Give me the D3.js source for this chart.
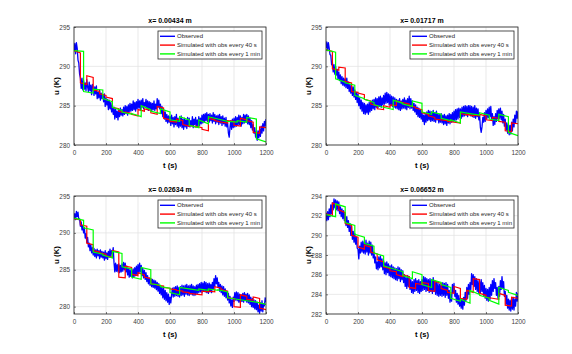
<!DOCTYPE html>
<html><head><meta charset="utf-8">
<script src="https://cdn.jsdelivr.net/npm/d3@7"></script>
<style>body{margin:0;background:#fff}svg{display:block}</style>
</head><body><svg id="c" width="572" height="354"></svg>
<script>
// ---------- DATA ----------
const titles = ["x= 0.00434 m", "x= 0.01717 m", "x= 0.02634 m", "x= 0.06652 m"];
const legendLabels = ["Observed", "Simulated with obs every 40 s", "Simulated with obs every 1 min"];
const xTicks = [0, 200, 400, 600, 800, 1000, 1200];
const yDomains = [[280, 295], [280, 295], [279, 295], [282, 294]];
const yTicks = [[280, 285, 290, 295], [280, 285, 290, 295], [280, 285, 290, 295], [282, 284, 286, 288, 290, 292, 294]];
const obsStep = 5;     // seconds between observed samples
const redPeriod = 40;  // assimilation period (s)
const greenPeriod = 60;

const obs1 = [
292.0,292.9,291.6,293.0,292.3,290.8,290.4,289.0,288.5,287.2,288.5,287.0,
288.2,287.1,287.9,286.9,288.3,287.4,286.8,288.0,286.9,287.6,286.4,287.7,
287.1,286.3,287.4,286.5,287.5,285.9,286.7,286.0,287.0,285.7,286.6,285.9,
286.4,285.5,286.5,284.9,286.0,285.1,285.8,284.5,285.7,284.6,285.4,284.2,
285.1,283.9,284.8,283.3,284.6,283.5,284.3,283.2,284.5,283.6,284.7,283.8,
284.5,283.7,284.8,283.9,285.0,284.0,284.9,283.8,285.1,284.2,285.3,284.3,
285.2,284.4,285.6,284.5,285.4,284.3,285.5,284.6,285.8,284.7,285.6,284.5,
285.7,284.8,285.9,284.6,285.4,284.9,285.8,284.7,285.6,284.4,285.5,284.6,
285.4,284.3,285.3,284.5,285.6,284.4,285.2,284.6,285.9,284.8,285.7,284.6,
285.2,284.0,284.9,283.6,284.5,283.3,284.2,283.0,283.9,282.8,283.7,282.9,
283.6,282.5,283.8,282.7,283.5,282.3,283.6,282.6,283.9,282.4,283.4,282.2,
283.5,282.4,283.7,282.2,283.3,282.0,283.4,282.3,283.2,282.1,283.5,282.4,
283.4,282.3,283.1,282.5,283.6,282.2,283.3,282.6,283.5,282.3,283.2,282.4,
283.6,282.5,283.4,282.7,283.8,282.8,283.9,282.9,284.0,283.1,284.1,283.0,
283.9,282.9,284.0,283.1,283.8,282.8,284.1,283.0,283.9,282.7,283.7,282.9,
283.8,282.6,283.9,282.8,283.6,282.5,283.7,282.7,283.4,282.4,283.5,282.3,
282.8,281.5,281.0,282.2,283.1,282.0,283.3,282.2,283.4,282.3,283.6,282.4,
283.5,282.5,283.8,282.6,283.7,282.4,283.5,282.7,283.9,282.8,283.8,282.9,
283.9,282.7,283.7,282.6,283.4,282.2,283.1,281.9,282.6,281.5,282.2,281.0,
281.7,280.6,281.8,280.9,282.0,281.1,282.4,281.5,282.7,281.8,283.0,282.4,
283.3];
const obs2 = [
292.3,293.1,292.0,293.0,292.3,291.5,291.4,290.2,290.5,289.3,290.2,289.0,
290.0,288.9,289.6,288.4,289.3,288.2,288.9,287.8,288.7,287.6,288.5,287.5,
288.4,287.3,288.5,287.2,288.0,286.8,287.7,286.6,287.5,286.3,287.4,286.1,
287.0,285.8,286.7,285.4,286.5,285.0,286.0,284.6,285.7,284.3,285.4,284.0,
285.3,283.9,285.1,284.1,285.2,283.9,285.4,284.2,285.5,284.4,285.7,284.6,
285.8,284.5,286.0,284.8,285.9,284.7,286.1,284.9,286.2,284.8,286.0,285.1,
286.3,285.2,286.6,285.3,286.7,285.4,286.5,285.1,286.4,285.0,286.2,284.9,
286.1,284.8,286.0,284.7,285.8,284.6,285.7,284.5,285.9,284.4,285.6,284.6,
285.8,284.7,286.0,284.6,285.7,284.5,285.9,284.8,286.2,284.6,285.9,284.7,
285.6,284.4,285.3,284.2,285.1,283.9,284.8,283.6,284.7,283.5,284.5,283.3,
284.2,283.0,283.8,282.6,283.9,282.9,284.2,283.1,284.4,283.2,284.3,283.0,
284.2,283.1,284.4,283.0,284.1,282.9,284.3,283.2,284.0,282.8,283.9,282.9,
284.0,282.8,283.8,282.6,283.9,282.7,283.7,282.5,283.8,282.8,284.0,282.7,
283.9,282.9,284.1,283.0,284.3,283.1,284.5,283.2,284.6,283.3,284.7,283.5,
284.6,283.4,284.8,283.6,284.9,283.7,285.0,283.8,284.9,283.6,285.0,283.9,
285.0,283.7,284.9,283.6,284.8,283.5,285.0,283.4,284.7,283.6,284.6,283.2,
283.8,282.2,281.6,282.3,283.5,282.9,284.1,283.0,284.4,283.3,284.6,283.5,
284.8,283.6,284.9,283.2,284.0,282.5,283.6,282.6,284.0,283.0,284.4,283.3,
284.6,283.4,284.7,283.2,284.3,282.8,283.9,282.4,283.3,281.9,282.8,281.5,
282.6,281.3,282.5,281.4,282.9,281.8,283.3,282.3,283.8,282.8,284.3,283.4,
284.3];
const obs3 = [
292.0,292.6,291.8,292.9,292.2,292.8,291.8,291.9,290.9,291.5,290.4,291.0,
290.0,290.7,289.3,289.9,288.7,289.4,288.1,288.6,287.6,288.4,287.3,288.0,
287.0,287.9,286.8,287.7,286.6,287.8,286.9,287.6,286.5,287.7,286.7,287.5,
286.6,287.4,286.3,287.6,286.5,287.3,286.4,287.5,286.7,287.8,286.8,287.6,
287.2,288.0,286.0,284.7,285.9,284.8,285.7,284.7,285.8,284.6,285.6,284.7,
285.8,284.8,286.0,285.0,285.9,284.7,285.5,284.3,285.2,284.0,285.0,284.1,
285.0,283.9,285.1,284.0,285.3,284.2,285.5,284.3,285.7,284.5,285.9,284.7,
285.6,284.2,285.2,283.9,284.9,283.7,284.6,283.4,284.2,283.1,283.9,282.9,
283.8,282.7,283.7,282.6,283.6,282.5,283.5,282.3,283.3,282.1,283.1,281.8,
282.8,281.6,282.7,281.2,282.5,281.0,282.2,280.8,281.9,280.6,281.7,280.3,
281.3,280.5,281.6,282.5,281.3,282.6,281.4,282.7,281.5,282.8,281.4,282.6,
281.3,282.7,281.5,282.9,281.6,282.8,281.4,282.9,281.7,283.0,281.6,282.8,
281.5,282.9,281.7,283.0,281.6,282.8,281.5,282.7,281.6,282.9,281.8,283.0,
281.9,283.1,282.0,283.3,281.9,283.2,282.1,283.4,282.0,283.3,281.9,283.1,
281.8,283.2,282.0,283.0,281.9,283.3,282.3,283.8,282.7,284.2,283.1,283.9,
282.6,283.3,282.1,283.0,281.9,282.8,281.6,282.7,281.4,282.4,281.2,282.1,
280.9,281.8,280.5,281.4,280.1,280.9,279.9,281.3,280.7,281.9,280.9,282.0,
280.8,281.9,280.6,281.7,280.5,281.6,280.7,281.8,280.6,281.9,280.8,281.7,
280.6,281.8,280.5,281.6,280.3,281.3,280.0,281.1,279.9,280.9,279.7,280.8,
279.6,280.6,279.3,280.2,279.1,280.5,279.4,280.8,279.3,280.4,280.1,281.2,
280.6];
const obs4 = [
292.3,291.5,292.4,291.6,292.7,291.9,293.1,292.2,293.3,292.6,293.7,292.8,
293.6,292.6,293.5,292.5,293.4,292.2,292.9,291.9,292.7,291.7,292.5,291.5,
292.2,291.0,291.9,290.8,291.5,290.4,291.2,290.0,290.9,289.6,290.4,289.3,
290.2,289.1,289.8,288.7,288.6,287.6,288.9,288.2,289.3,288.3,289.4,288.2,
289.3,288.1,289.5,288.3,289.2,288.0,289.4,288.2,289.3,288.0,289.0,287.7,
288.3,287.2,287.8,286.6,287.3,286.5,287.8,286.7,287.9,286.8,287.6,286.5,
287.4,286.1,287.2,286.0,287.3,286.2,287.1,285.9,286.9,285.8,287.0,285.7,
286.8,285.6,286.7,285.5,286.6,285.4,286.8,285.6,286.7,285.3,286.5,285.5,
286.4,285.2,286.0,284.8,285.7,284.6,285.9,284.8,285.8,284.5,285.5,284.2,
285.3,284.1,285.5,284.3,285.6,284.4,285.4,284.2,285.5,284.1,285.3,284.3,
285.5,284.4,285.8,284.5,285.7,284.3,285.6,284.4,285.5,284.2,285.6,284.3,
285.5,284.1,285.7,284.3,285.4,284.0,285.3,283.9,285.1,283.8,285.0,283.9,
285.0,283.8,285.2,283.9,285.1,283.7,285.2,283.9,285.0,283.6,284.4,283.2,
284.0,283.3,285.0,284.2,285.1,283.8,284.4,283.2,284.1,283.0,283.9,282.8,
283.6,282.6,283.5,282.5,283.7,282.9,284.2,283.4,284.7,283.6,285.0,284.0,
285.2,284.5,286.1,285.0,286.0,284.8,285.8,284.5,285.6,284.3,285.4,284.1,
285.3,284.2,285.5,284.3,285.2,283.9,284.9,283.6,284.6,283.4,284.5,283.3,
284.7,283.5,285.0,283.9,285.4,284.3,285.6,284.6,285.2,283.9,284.7,283.6,
284.8,283.8,285.4,284.5,285.8,284.6,285.3,283.8,284.3,283.0,283.9,282.6,
283.5,282.4,283.4,282.3,283.6,282.5,283.7,282.4,283.5,282.8,284.2,283.3,
284.1];

// Simulated (every 40 s): value at start and end of each 40 s window
const red1Start = [292.0,287.9,288.8,287.0,286.5,286.1,284.8,284.3,284.2,283.9,284.5,284.6,284.1,284.9,283.4,283.0,283.3,282.6,282.5,282.4,282.0,283.4,283.1,282.9,283.1,282.5,283.4,283.1,281.6,282.3];
const red1End   = [291.7,287.7,288.6,286.8,286.3,285.9,284.6,284.1,284.0,283.7,284.3,284.4,283.9,284.7,283.2,282.9,283.1,282.4,282.3,282.2,281.8,283.2,282.9,282.8,283.0,282.4,283.2,282.9,281.5,282.2];
const red2Start = [292.1,289.7,289.9,288.1,286.8,286.6,285.8,285.2,284.6,285.0,285.1,285.6,285.4,285.0,284.7,284.1,283.7,283.3,283.2,283.0,282.9,284.0,283.9,283.8,283.9,283.2,283.5,283.0,281.8,282.8];
const red2End   = [291.9,289.5,289.8,287.9,286.7,286.4,285.6,285.0,284.5,284.8,285.0,285.4,285.2,284.8,284.5,283.9,283.5,283.2,283.1,282.9,282.8,283.8,283.7,283.7,283.7,283.1,283.4,282.9,281.7,282.7];
const red3Start = [291.9,291.1,288.6,287.6,287.3,286.9,287.6,284.0,285.5,284.4,284.6,284.0,283.1,282.9,282.6,282.4,282.2,282.0,281.8,281.7,282.1,282.1,282.7,282.3,281.2,280.0,281.6,281.0,281.3,279.8];
const red3End   = [291.8,290.9,288.4,287.4,287.1,286.7,287.4,283.9,285.3,284.2,284.3,283.8,283.0,282.8,282.5,282.3,282.1,281.9,281.7,281.6,282.0,282.0,282.5,282.1,281.1,279.9,281.4,280.9,281.1,279.6];
const red4Start = [292.2,293.3,292.6,291.2,290.0,288.8,289.0,288.3,287.5,286.8,286.4,286.0,286.0,284.7,285.1,285.2,284.4,285.3,284.6,284.2,284.8,283.6,284.4,285.6,284.1,283.7,283.6,284.1,282.9,283.7];
const red4End   = [292.0,293.0,292.3,291.0,289.8,288.6,288.8,288.1,287.3,286.6,286.3,285.8,285.8,284.6,285.0,285.1,284.3,285.1,284.4,284.1,284.6,283.5,284.2,285.5,283.9,283.6,283.5,283.9,282.8,283.6];

// Simulated (every 1 min): value at start and end of each 60 s window
const green1Start = [292.0,286.8,287.1,285.9,284.8,284.2,284.0,285.0,284.3,284.6,283.2,283.6,282.5,283.2,283.6,283.3,283.0,283.1,283.5,280.8];
const green1End   = [291.9,286.6,287.0,285.5,284.4,283.9,283.6,284.5,284.0,284.2,283.0,283.2,282.2,282.7,283.3,283.0,282.9,282.9,283.3,280.4];
const green2Start = [292.1,288.4,287.9,286.3,285.8,285.1,284.8,285.7,285.2,285.6,284.2,284.2,283.4,283.2,284.2,284.0,284.1,283.3,283.9,281.6];
const green2End   = [291.8,288.0,287.6,285.9,285.4,284.8,284.5,285.3,284.9,285.3,283.9,283.9,283.1,282.8,284.0,283.8,283.8,283.1,283.6,281.2];
const green3Start = [292.0,290.7,287.4,287.0,287.5,285.4,284.0,285.3,283.1,282.7,281.9,282.6,282.4,282.4,282.4,282.3,281.2,281.0,280.8,280.6];
const green3End   = [291.7,290.4,287.1,286.6,287.2,285.1,283.7,285.0,282.9,282.5,281.6,282.4,282.2,282.2,282.2,282.0,281.0,280.8,280.6,280.3];
const green4Start = [292.1,293.2,291.3,290.1,289.2,288.2,286.9,286.6,285.9,286.3,285.0,285.5,285.0,283.6,283.5,284.4,283.9,283.4,284.7,284.2];
const green4End   = [291.9,292.9,291.0,289.8,288.9,287.9,286.6,286.3,285.6,286.0,284.7,285.2,284.7,283.3,283.1,284.0,283.6,283.0,284.4,283.9];

// ---------- LAYOUT ----------
const panels = [
  {x: 74, y: 27, obs: obs1, rs: red1Start, re: red1End, gs: green1Start, ge: green1End},
  {x: 326, y: 27, obs: obs2, rs: red2Start, re: red2End, gs: green2Start, ge: green2End},
  {x: 74, y: 196, obs: obs3, rs: red3Start, re: red3End, gs: green3Start, ge: green3End},
  {x: 326, y: 196, obs: obs4, rs: red4Start, re: red4End, gs: green4Start, ge: green4End}
];
const W = 192, H = 118;
const FONT = "'Liberation Sans', Arial, Helvetica, sans-serif";
const colors = ["#0000ff", "#ff0000", "#00ff00"];

const svg = d3.select("#c");

function stepPoints(starts, ends, period) {
  const pts = [];
  starts.forEach((s, i) => { pts.push([i * period, s]); pts.push([(i + 1) * period, ends[i]]); });
  return pts;
}

panels.forEach((p, k) => {
  const g = svg.append("g").attr("transform", `translate(${p.x},${p.y})`);
  const x = d3.scaleLinear().domain([0, 1200]).range([0, W]);
  const y = d3.scaleLinear().domain(yDomains[k]).range([H, 0]);

  // grid
  g.append("g").selectAll("line").data(xTicks).join("line")
    .attr("x1", d => x(d)).attr("x2", d => x(d)).attr("y1", 0).attr("y2", H)
    .attr("stroke", "#e3e3e3").attr("stroke-width", 0.8);
  g.append("g").selectAll("line").data(yTicks[k]).join("line")
    .attr("x1", 0).attr("x2", W).attr("y1", d => y(d)).attr("y2", d => y(d))
    .attr("stroke", "#e3e3e3").attr("stroke-width", 0.8);

  const clip = "clip" + k;
  g.append("clipPath").attr("id", clip).append("rect").attr("width", W).attr("height", H);
  const plot = g.append("g").attr("clip-path", `url(#${clip})`);
  const line = d3.line().x(d => x(d[0])).y(d => y(d[1]));

  plot.append("path").datum(p.obs.map((v, i) => [i * obsStep, v]))
    .attr("d", line).attr("fill", "none").attr("stroke", colors[0]).attr("stroke-width", 1.3).attr("stroke-linejoin", "round");
  plot.append("path").datum(stepPoints(p.rs, p.re, redPeriod))
    .attr("d", line).attr("fill", "none").attr("stroke", colors[1]).attr("stroke-width", 1.2);
  plot.append("path").datum(stepPoints(p.gs, p.ge, greenPeriod))
    .attr("d", line).attr("fill", "none").attr("stroke", colors[2]).attr("stroke-width", 1.2);

  // axes
  const xa = g.append("g").attr("transform", `translate(0,${H})`)
    .call(d3.axisBottom(x).tickValues(xTicks).tickSize(-2).tickPadding(5).tickFormat(d3.format("d")));
  const ya = g.append("g")
    .call(d3.axisLeft(y).tickValues(yTicks[k]).tickSize(-2).tickPadding(4).tickFormat(d3.format("d")));
  [xa, ya].forEach(a => {
    a.select(".domain").remove();
    a.selectAll("line").attr("stroke", "#262626").attr("stroke-width", 0.6);
    a.selectAll("text").attr("fill", "#404040").style("font-family", FONT).style("font-size", "6.4px");
  });
  g.append("rect").attr("width", W).attr("height", H).attr("fill", "none")
    .attr("stroke", "#262626").attr("stroke-width", 0.8);

  // title & labels
  g.append("text").attr("x", W / 2).attr("y", -4).attr("text-anchor", "middle")
    .style("font-family", FONT).style("font-size", "7px").style("font-weight", "bold").text(titles[k]);
  g.append("text").attr("x", W / 2).attr("y", H + 23).attr("text-anchor", "middle")
    .style("font-family", FONT).style("font-size", "7.6px").style("font-weight", "bold").text("t (s)");
  g.append("text").attr("transform", `translate(-15,${H / 2}) rotate(-90)`).attr("text-anchor", "middle")
    .style("font-family", FONT).style("font-size", "7.8px").style("font-weight", "bold").text("u (K)");

  // legend
  const lw = 104, lh = 28;
  const lg = g.append("g").attr("transform", `translate(${W - 4 - lw},4)`);
  lg.append("rect").attr("width", lw).attr("height", lh).attr("fill", "#fff")
    .attr("stroke", "#262626").attr("stroke-width", 0.8);
  legendLabels.forEach((lab, i) => {
    const yy = 5.3 + i * 8.8;
    lg.append("line").attr("x1", 2).attr("x2", 17).attr("y1", yy).attr("y2", yy)
      .attr("stroke", colors[i]).attr("stroke-width", 1.4);
    lg.append("text").attr("x", 19).attr("y", yy + 2)
      .style("font-family", FONT).style("font-size", "6px").attr("fill", "#262626").text(lab);
  });
});
</script>
</body></html>
